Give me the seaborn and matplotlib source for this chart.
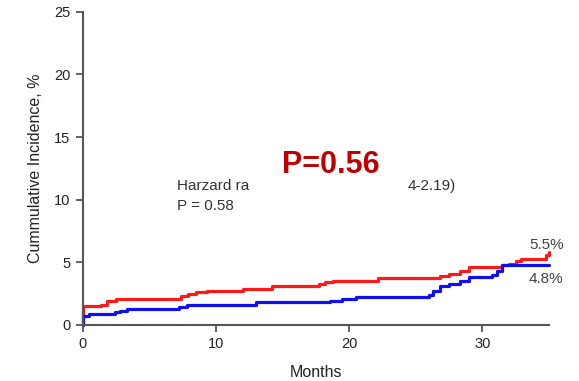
import matplotlib
matplotlib.use("Agg")
import matplotlib.pyplot as plt
import seaborn as sns
import pandas as pd

# Data
red_months = [0, 0.05, 1.4, 1.8, 2.5, 7.4, 7.9, 8.5, 9.3, 12.0, 14.2, 17.7, 18.2, 18.8, 22.2, 26.8, 27.5, 28.3, 29.0, 31.5, 32.0, 32.5, 32.9, 34.8, 35.0]
red_values = [0, 1.5, 1.6, 1.9, 2.1, 2.3, 2.5, 2.6, 2.7, 2.9, 3.15, 3.3, 3.4, 3.55, 3.75, 3.9, 4.1, 4.3, 4.6, 4.75, 4.9, 5.1, 5.3, 5.6, 5.8]
blue_months = [0, 0.05, 0.5, 2.4, 2.8, 3.3, 7.2, 7.8, 13.0, 18.6, 19.5, 20.5, 26.0, 26.3, 26.8, 27.5, 28.3, 29.0, 30.7, 31.1, 31.5, 35.0]
blue_values = [0, 0.7, 0.9, 1.0, 1.15, 1.3, 1.45, 1.6, 1.87, 1.95, 2.1, 2.27, 2.4, 2.7, 3.1, 3.3, 3.5, 3.85, 4.0, 4.3, 4.8, 4.8]
groups = ["red", "blue"]
x_ticks = [0, 10, 20, 30]
y_ticks = [0, 5, 10, 15, 20, 25]
end_labels = ["5.5%", "4.8%"]

df = pd.concat([
    pd.DataFrame({"month": red_months, "value": red_values, "group": groups[0]}),
    pd.DataFrame({"month": blue_months, "value": blue_values, "group": groups[1]}),
], ignore_index=True)

sns.set_style("ticks")
plt.rcParams['font.family'] = ['Liberation Sans', 'DejaVu Sans']

fig = plt.figure(figsize=(5.79, 3.81), dpi=100)
ax = fig.add_axes([0.143, 0.147, 0.805, 0.822])

sns.lineplot(data=df, x="month", y="value", hue="group",
             palette={"red": "#ff1a1a", "blue": "#1010ee"},
             estimator=None, sort=False, drawstyle="steps-post",
             linewidth=2.3, legend=False, ax=ax, clip_on=False)

ax.set_xlim(0, 35)
ax.set_ylim(0, 25)
ax.set_xticks(x_ticks)
ax.set_yticks(y_ticks)
for s in ["top", "right"]:
    ax.spines[s].set_visible(False)
for s in ["left", "bottom"]:
    ax.spines[s].set_color("#555555")
    ax.spines[s].set_linewidth(1.5)
ax.tick_params(direction="out", length=5, width=1.3, color="#555555",
               labelsize=10.5, labelcolor="#222222", pad=4)

ax.set_xlabel("Months", fontsize=11.5, color="#222222", labelpad=10)
ax.set_ylabel("Cummulative Incidence, %", fontsize=11.5, color="#222222", labelpad=8)

txt_col = "#333333"
ax.text(7.1, 11.1, "Harzard ra", fontsize=11, color=txt_col, va="center", ha="left")
ax.text(7.1, 9.5, "P = 0.58", fontsize=11, color=txt_col, va="center", ha="left")
ax.text(24.4, 11.1, "4-2.19)", fontsize=11, color=txt_col, va="center", ha="left")
ax.text(18.6, 12.8, "P=0.56", fontsize=22, color="#c00000", fontweight="bold",
        va="center", ha="center")
ax.text(33.5, 6.4, end_labels[0], fontsize=11, color="#444444", va="center", ha="left")
ax.text(33.5, 3.7, end_labels[1], fontsize=11, color="#444444", va="center", ha="left")

fig.savefig("out.png", dpi=100)
